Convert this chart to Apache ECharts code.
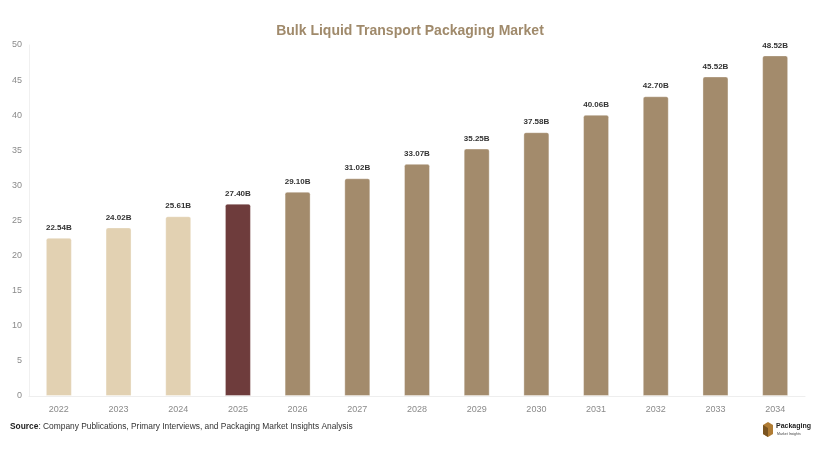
<!DOCTYPE html>
<html><head><meta charset="utf-8">
<script src="https://cdn.jsdelivr.net/npm/echarts@6/dist/echarts.min.js"></script>
<style>html,body{margin:0;padding:0;background:#fff}#c{width:820px;height:454px}</style>
</head><body><div id="c"></div>
<script>
const years = ['2022','2023','2024','2025','2026','2027','2028','2029','2030','2031','2032','2033','2034'];
const values = [22.54,24.02,25.61,27.40,29.10,31.02,33.07,35.25,37.58,40.06,42.70,45.52,48.52];
const yTicks = [0,5,10,15,20,25,30,35,40,45,50];
const colorHist = '#e2d1b2', colorBase = '#6e3c3c', colorFcst = '#a38b6c';
const F = 'Liberation Sans, Arial, sans-serif';
const chart = echarts.init(document.getElementById('c'));
chart.setOption({
  animation:false,
  title:{text:'Bulk Liquid Transport Packaging Market',left:'center',top:19,
    textStyle:{fontFamily:F,fontSize:14,fontWeight:'bold',color:'#a08a6b'}},
  grid:{left:29,right:15,top:45,bottom:58},
  xAxis:{type:'category',data:years,axisTick:{show:false},
    axisLine:{lineStyle:{color:'#eeeeee'}},
    axisLabel:{color:'#8a8a8a',fontSize:9,margin:9,fontFamily:F}},
  yAxis:{type:'value',min:yTicks[0],max:yTicks[yTicks.length-1],interval:5,
    splitLine:{show:false},axisLine:{show:true,lineStyle:{color:'#f0f0f0'}},axisTick:{show:false},
    axisLabel:{color:'#8a8a8a',fontSize:9,margin:7,fontFamily:F}},
  series:[{type:'bar',barWidth:26,
    data:values.map((v,i)=>({value:v,itemStyle:{color:i<3?colorHist:(i===3?colorBase:colorFcst)}})),
    itemStyle:{borderRadius:[2,2,0,0],borderColor:'rgba(255,255,255,0.35)',borderWidth:1},
    label:{show:true,position:'top',distance:6,formatter:p=>p.value.toFixed(2)+'B',
      color:'#333',fontSize:8,fontWeight:'bold',fontFamily:F}}],
  graphic:[
    {type:'text',left:10,top:423,style:{rich:{b:{fontWeight:'bold',fontSize:8.4,fill:'#222',fontFamily:F},n:{fontSize:8.4,fill:'#333',fontFamily:F}},
      text:'{b|Source}{n|: Company Publications, Primary Interviews, and Packaging Market Insights Analysis}'}},
    {type:'polygon',shape:{points:[[763,425],[768,422],[773,425],[773,434],[768,437],[763,434]]},style:{fill:'#b07c34'}},
    {type:'polygon',shape:{points:[[763,425],[768,428],[768,437],[763,434]]},style:{fill:'#7a5420'}},
    {type:'text',left:776,top:423,style:{text:'Packaging',fontSize:7,fontWeight:'bold',fill:'#222',fontFamily:F}},
    {type:'text',left:777,top:432,style:{text:'Market Insights',fontSize:3.5,fill:'#444',fontFamily:F}}
  ]
});
</script></body></html>
